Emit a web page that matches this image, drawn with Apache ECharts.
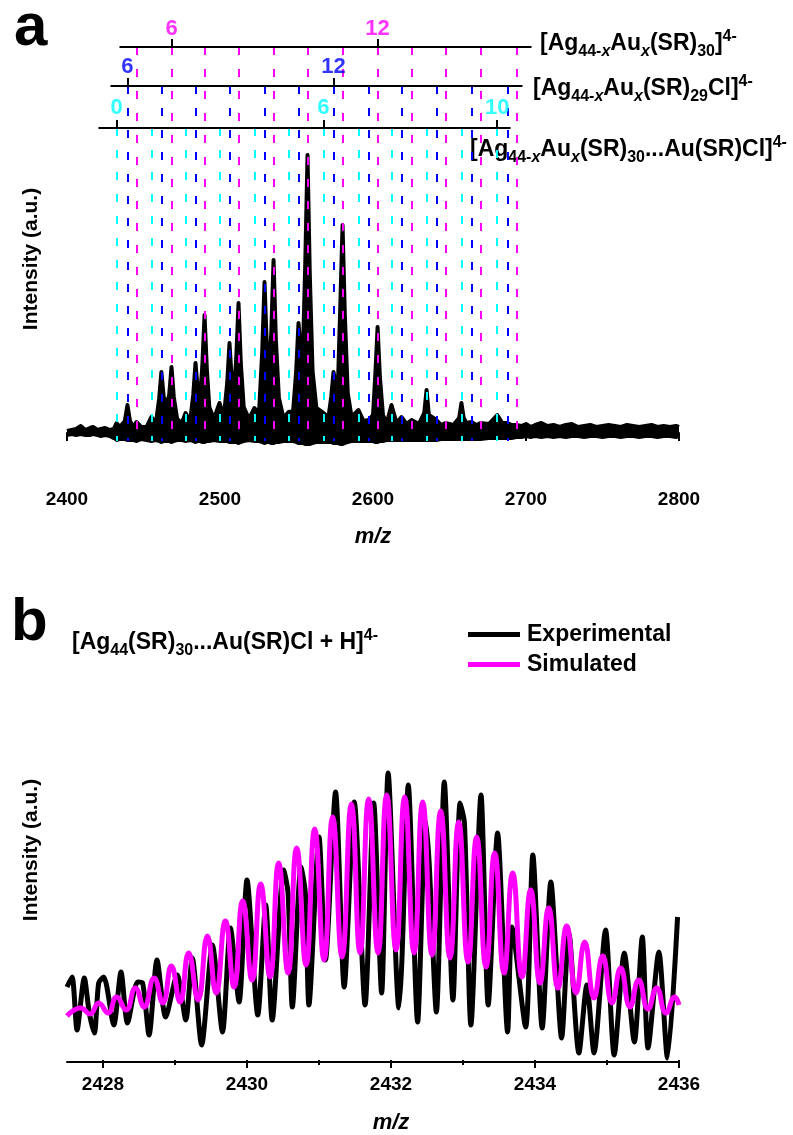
<!DOCTYPE html>
<html>
<head>
<meta charset="utf-8">
<script src="https://cdn.jsdelivr.net/npm/echarts@6/dist/echarts.min.js"></script>
<style>
  html, body { margin: 0; padding: 0; background: #fff; }
  #chart { width: 793px; height: 1135px; }
</style>
</head>
<body>
<div id="chart"></div>
<script>
// ---- panel a: survey spectrum, envelope of the dense trace [m/z, top, bottom]
const specEnvelope = [
  [2400, 2, -3], [2403, 3, -2], [2406, 4, -3], [2409, 7, -2], [2412, 3, -3],
  [2415, 5, -3], [2417, 6, -2], [2420, 3, -3], [2422, 4, -4], [2425, 5, -3],
  [2428, 3, -4], [2430.5, 4, -6],
  [2432.4, 10, -8], [2434.5, 6, -7], [2437.8, 12, -7], [2439.5, 28, -8], [2441.2, 12, -8],
  [2443.5, 6, -8], [2445.4, 11, -9], [2448.5, 6, -7], [2452.0, 6, -8], [2455.2, 16, -9],
  [2458.0, 9, -8], [2460.2, 34, -9], [2461.7, 61, -10], [2463.2, 36, -9], [2465.0, 28, -9],
  [2466.8, 38, -9], [2468.3, 66, -10], [2469.8, 36, -9], [2472.0, 14, -8], [2475.0, 10, -8],
  [2477.5, 20, -9], [2480.5, 12, -8], [2482.5, 38, -9], [2484.0, 70, -10], [2485.5, 42, -9],
  [2487.0, 36, -9], [2488.4, 66, -10], [2489.9, 118, -10], [2491.4, 64, -9], [2493.0, 26, -9],
  [2496.0, 14, -8], [2499.7, 30, -9], [2502.5, 16, -9], [2504.7, 50, -9], [2506.2, 90, -10],
  [2507.7, 52, -10], [2509.2, 44, -10], [2510.6, 74, -10], [2512.1, 130, -11], [2513.6, 70, -10],
  [2515.5, 26, -9], [2519.0, 14, -8], [2522.5, 25, -9], [2525.5, 20, -9], [2527.6, 82, -10],
  [2529.1, 151, -11], [2530.6, 86, -10], [2532.0, 62, -10], [2533.5, 100, -11], [2535.0, 173, -11],
  [2536.5, 94, -10], [2538.5, 35, -10], [2541.5, 15, -9], [2544.8, 21, -9], [2547.8, 22, -9],
  [2549.8, 62, -10], [2551.3, 110, -11], [2552.8, 82, -11], [2554.2, 80, -11], [2555.7, 168, -12],
  [2557.2, 278, -12], [2558.7, 158, -12], [2560.5, 62, -11], [2563.0, 25, -10], [2567.6, 20, -10],
  [2570.9, 16, -10], [2572.7, 36, -10], [2574.2, 61, -11], [2575.7, 48, -11], [2577.2, 54, -11],
  [2578.6, 126, -12], [2580.1, 208, -12], [2581.6, 118, -11], [2583.5, 40, -10], [2586.0, 16, -9],
  [2590.5, 23, -9], [2593.8, 12, -9], [2597.1, 13, -9], [2600.0, 18, -9], [2601.5, 58, -10],
  [2603.0, 106, -10], [2604.5, 56, -9], [2606.5, 18, -9], [2609.0, 10, -8], [2612.1, 28, -8],
  [2615.4, 10, -8], [2618.6, 16, -8], [2622.0, 9, -8], [2625.2, 13, -8], [2630.0, 9, -8],
  [2633.5, 20, -8], [2635.0, 43, -8], [2636.5, 18, -8], [2641.5, 13, -8], [2644.5, 8, -7],
  [2647.4, 10, -7], [2652.5, 8, -7], [2656.3, 15, -7], [2657.8, 30, -7], [2659.3, 15, -7],
  [2661.1, 10, -7], [2664.4, 11, -7], [2667.3, 8, -7], [2670.3, 10, -7], [2675.7, 9, -6],
  [2681.2, 18, -6], [2684.5, 10, -6], [2687.8, 10, -6], [2690.7, 8, -6], [2693.7, 8, -5],
  [2697, 7, -5], [2700, 9, -4], [2703, 6, -5], [2706, 8, -4], [2710, 10, -5], [2714, 7, -4],
  [2718, 8, -5], [2722, 6, -4], [2726, 8, -5], [2730, 9, -4], [2734, 6, -4], [2738, 7, -5],
  [2742, 8, -4], [2746, 6, -4], [2750, 7, -5], [2754, 8, -4], [2758, 7, -4], [2762, 6, -5],
  [2766, 8, -4], [2770, 7, -4], [2774, 6, -5], [2778, 7, -4], [2782, 8, -4], [2786, 6, -5],
  [2790, 7, -4], [2794, 6, -4], [2798, 7, -5], [2800, 6, -4]
];

// assignment lines (m/z) for the three families
const auxSR30 = [2445.4, 2468.3, 2489.9, 2512.1, 2535.0, 2557.2, 2580.1, 2603.0, 2625.2, 2647.4, 2670.3, 2693.7];
const auxSR29Cl = [2439.5, 2461.7, 2484.0, 2506.2, 2529.1, 2551.3, 2574.2, 2597.1, 2618.6, 2641.5, 2664.4, 2687.8];
const auxSR30AuCl = [2432.4, 2455.2, 2477.5, 2499.7, 2522.5, 2544.8, 2567.6, 2590.5, 2612.1, 2635.0, 2657.8, 2681.2];

// numbered ticks on the three ladders
const auxSR30Ticks = [2468.3, 2603.0];
const auxSR30Labels = ['6', '12'];
const auxSR29ClTicks = [2439.5, 2574.2];
const auxSR29ClLabels = ['6', '12'];
const auxSR30AuClTicks = [2432.4, 2567.6, 2681.2];
const auxSR30AuClLabels = ['0', '6', '10'];

// ---- panel b: zoom on [Ag44(SR)30...Au(SR)Cl + H]4-  [m/z, intensity]
const experimental = [
  [2427.50, 75], [2427.57, 85], [2427.64, 32], [2427.74, 84], [2427.81, 49], [2427.88, 29],
  [2427.94, 79], [2428.01, 85], [2428.15, 37], [2428.25, 90], [2428.34, 39], [2428.48, 80],
  [2428.55, 79], [2428.64, 27], [2428.75, 102], [2428.87, 45], [2429.03, 87], [2429.15, 42],
  [2429.24, 104], [2429.37, 17], [2429.52, 117], [2429.66, 30], [2429.77, 134], [2429.89, 60],
  [2430.00, 182], [2430.15, 47], [2430.26, 157], [2430.35, 42], [2430.51, 192], [2430.57, 169],
  [2430.63, 55], [2430.75, 195], [2430.81, 169], [2430.86, 57], [2431.00, 225], [2431.09, 102],
  [2431.23, 270], [2431.35, 75], [2431.49, 260], [2431.64, 57], [2431.76, 259], [2431.87, 69],
  [2431.96, 289], [2432.11, 54], [2432.15, 99], [2432.24, 277], [2432.37, 40], [2432.48, 242],
  [2432.53, 199], [2432.63, 50], [2432.74, 280], [2432.86, 62], [2432.96, 259], [2433.02, 239],
  [2433.11, 37], [2433.25, 267], [2433.35, 57], [2433.48, 229], [2433.62, 30], [2433.68, 135],
  [2433.87, 35], [2433.97, 207], [2434.10, 34], [2434.22, 180], [2434.37, 24], [2434.47, 129],
  [2434.61, 9], [2434.72, 77], [2434.82, 9], [2434.98, 132], [2435.10, 7], [2435.24, 109],
  [2435.38, 20], [2435.49, 125], [2435.57, 14], [2435.72, 110], [2435.84, 4], [2435.98, 145]
];
const simulated = [
  [2427.50, 46], [2427.69, 54], [2427.82, 48], [2427.94, 59], [2428.07, 49], [2428.19, 65],
  [2428.32, 52], [2428.45, 74], [2428.57, 55], [2428.71, 84], [2428.83, 59], [2428.95, 96],
  [2429.07, 60], [2429.19, 109], [2429.32, 62], [2429.45, 126], [2429.57, 69], [2429.70, 141],
  [2429.82, 75], [2429.94, 161], [2430.07, 82], [2430.19, 178], [2430.32, 85], [2430.44, 199],
  [2430.57, 89], [2430.69, 214], [2430.82, 97], [2430.94, 233], [2431.07, 102], [2431.19, 245],
  [2431.32, 105], [2431.45, 258], [2431.57, 109], [2431.69, 263], [2431.82, 109], [2431.94, 267],
  [2432.07, 112], [2432.19, 265], [2432.32, 109], [2432.44, 260], [2432.57, 107], [2432.69, 251],
  [2432.82, 104], [2432.94, 240], [2433.07, 100], [2433.19, 225], [2433.32, 95], [2433.44, 209],
  [2433.57, 89], [2433.69, 189], [2433.82, 85], [2433.94, 172], [2434.07, 79], [2434.19, 154],
  [2434.32, 74], [2434.44, 136], [2434.57, 69], [2434.69, 120], [2434.82, 64], [2434.94, 106],
  [2435.07, 59], [2435.19, 94], [2435.32, 55], [2435.44, 82], [2435.57, 53], [2435.69, 74],
  [2435.82, 49], [2435.94, 65], [2436.00, 57]
];

const FONT = '"Liberation Sans", Arial, sans-serif';
const MAGENTA = '#FF00FF', BLUE = '#0000FF', CYAN = '#00FFFF';

// ladder heights in panel a (intensity units)
const ladderY = { m: 386, b: 347, c: 305 };
const dashBottom = -8;

let myChart = echarts.init(document.getElementById('chart'));

function dashLines(list, top) {
  return list.map(m => ({ coords: [[m, top], [m, dashBottom]] }));
}
function tickLines(list, y) {
  return list.map(m => ({ coords: [[m, y], [m, y + 8]] }));
}
function numLabels(ticks, labels, y, color) {
  return ticks.map((m, i) => ({ name: labels[i], value: [m, y], label: { color: color } }));
}

const rich = {
  n: { fontSize: 23, fontWeight: 'bold', fontFamily: FONT, color: '#000', lineHeight: 31 },
  s: { fontSize: 16, fontWeight: 'bold', fontFamily: FONT, color: '#000', verticalAlign: 'bottom' },
  p: { fontSize: 16, fontWeight: 'bold', fontFamily: FONT, color: '#000', verticalAlign: 'top' },
  xm: { fontSize: 16, fontWeight: 'bold', fontStyle: 'italic', fontFamily: FONT, color: MAGENTA, verticalAlign: 'bottom' },
  xb: { fontSize: 16, fontWeight: 'bold', fontStyle: 'italic', fontFamily: FONT, color: BLUE, verticalAlign: 'bottom' },
  xc: { fontSize: 16, fontWeight: 'bold', fontStyle: 'italic', fontFamily: FONT, color: CYAN, verticalAlign: 'bottom' }
};
function formula(text, x, y) {
  return { type: 'text', x: x, y: y, style: { text: text, rich: rich, align: 'left', verticalAlign: 'middle' } };
}

const axisName = { fontSize: 22, fontWeight: 'bold', fontStyle: 'italic', fontFamily: FONT, color: '#000' };
const axisLbl = { fontSize: 19, fontWeight: 'bold', fontFamily: FONT, color: '#000', formatter: v => v.toFixed(0) };

myChart.setOption({
  animation: false,
  backgroundColor: '#fff',
  grid: [
    { left: 67, right: 114, top: 20, bottom: 659 },
    { left: 67, right: 114, top: 700, bottom: 73 },
    { left: 103, right: 114, top: 700, bottom: 73 }
  ],
  xAxis: [
    {
      gridIndex: 0, type: 'value', min: 2400, max: 2800, interval: 100,
      name: 'm/z', nameLocation: 'middle', nameGap: 50, nameTextStyle: axisName,
      axisLine: { lineStyle: { color: '#000', width: 2 } },
      axisTick: { length: 8, lineStyle: { width: 2 } },
      minorTick: { show: true, splitNumber: 2, length: 4, lineStyle: { color: '#000', width: 2 } },
      axisLabel: Object.assign({ margin: 14 }, axisLbl),
      splitLine: { show: false }
    },
    {
      gridIndex: 1, type: 'value', min: 2427.5, max: 2436,
      axisLine: { lineStyle: { color: '#000', width: 2 } },
      axisTick: { show: false }, axisLabel: { show: false }, splitLine: { show: false }
    },
    {
      gridIndex: 2, type: 'value', min: 2428, max: 2436, interval: 2,
      name: 'm/z', nameLocation: 'middle', nameGap: 52, nameTextStyle: axisName,
      axisLine: { show: false },
      axisTick: { length: 8, lineStyle: { color: '#000', width: 2 } },
      minorTick: { show: true, splitNumber: 2, length: 5, lineStyle: { color: '#000', width: 2 } },
      axisLabel: Object.assign({ margin: 15 }, axisLbl),
      splitLine: { show: false }
    }
  ],
  yAxis: [
    { gridIndex: 0, type: 'value', min: -43, max: 413, show: false },
    { gridIndex: 1, type: 'value', min: 0, max: 362, show: false },
    { gridIndex: 2, type: 'value', min: 0, max: 362, show: false }
  ],
  legend: {
    data: ['Experimental', 'Simulated'],
    orient: 'vertical', left: 463, top: 618,
    icon: 'rect', itemWidth: 52, itemHeight: 5, itemGap: 7,
    textStyle: { fontSize: 23, fontWeight: 'bold', fontFamily: FONT, color: '#000', padding: [0, 0, 0, 2] }
  },
  graphic: [
    { type: 'text', x: 14, y: 58, style: { text: 'a', fontSize: 60, fontWeight: 'bold', fontFamily: FONT, fill: '#000', align: 'left', verticalAlign: 'bottom' } },
    { type: 'text', x: 11, y: 653, style: { text: 'b', fontSize: 60, fontWeight: 'bold', fontFamily: FONT, fill: '#000', align: 'left', verticalAlign: 'bottom' } },
    { type: 'text', x: 31, y: 259, rotation: Math.PI / 2, style: { text: 'Intensity (a.u.)', fontSize: 21, fontWeight: 'bold', fontFamily: FONT, fill: '#000', align: 'center', verticalAlign: 'middle' } },
    { type: 'text', x: 31, y: 850, rotation: Math.PI / 2, style: { text: 'Intensity (a.u.)', fontSize: 21, fontWeight: 'bold', fontFamily: FONT, fill: '#000', align: 'center', verticalAlign: 'middle' } },
    formula('{n|[Ag}{s|44-}{xm|x}{n|Au}{xm|x}{n|(SR)}{s|30}{n|]}{p|4-}', 540, 44),
    formula('{n|[Ag}{s|44-}{xb|x}{n|Au}{xb|x}{n|(SR)}{s|29}{n|Cl]}{p|4-}', 533, 89),
    formula('{n|[Ag}{s|44-}{xc|x}{n|Au}{xc|x}{n|(SR)}{s|30}{n|...Au(SR)Cl]}{p|4-}', 470, 150),
    formula('{n|[Ag}{s|44}{n|(SR)}{s|30}{n|...Au(SR)Cl + H]}{p|4-}', 72, 643)
  ],
  series: [
    {
      // bottom edge of the noisy band: area fills up to zero
      name: 'envelopeLow', type: 'line', xAxisIndex: 0, yAxisIndex: 0, symbol: 'none',
      data: specEnvelope.map(d => [d[0], d[2]]),
      lineStyle: { color: '#000', width: 2 },
      areaStyle: { color: '#000', opacity: 1 }, z: 2
    },
    {
      // top edge of the band: area fills down to zero
      name: 'envelopeHigh', type: 'line', xAxisIndex: 0, yAxisIndex: 0, symbol: 'none',
      data: specEnvelope.map(d => [d[0], d[1]]),
      lineStyle: { color: '#000', width: 4, join: 'round' },
      areaStyle: { color: '#000', opacity: 1 }, z: 2
    },
    {
      type: 'lines', coordinateSystem: 'cartesian2d', xAxisIndex: 0, yAxisIndex: 0, z: 5,
      data: dashLines(auxSR30AuCl, ladderY.c),
      lineStyle: { color: CYAN, width: 2, type: [8, 14], opacity: 1 }
    },
    {
      type: 'lines', coordinateSystem: 'cartesian2d', xAxisIndex: 0, yAxisIndex: 0, z: 5,
      data: dashLines(auxSR29Cl, ladderY.b),
      lineStyle: { color: BLUE, width: 2, type: [8, 14], opacity: 1 }
    },
    {
      type: 'lines', coordinateSystem: 'cartesian2d', xAxisIndex: 0, yAxisIndex: 0, z: 5,
      data: dashLines(auxSR30, ladderY.m),
      lineStyle: { color: MAGENTA, width: 2, type: [8, 14], opacity: 1 }
    },
    {
      type: 'lines', coordinateSystem: 'cartesian2d', xAxisIndex: 0, yAxisIndex: 0, z: 6,
      data: [
        { coords: [[2434.3, ladderY.m], [2703.6, ladderY.m]] },
        { coords: [[2428.4, ladderY.b], [2697.7, ladderY.b]] },
        { coords: [[2420.6, ladderY.c], [2689.9, ladderY.c]] }
      ].concat(tickLines(auxSR30Ticks, ladderY.m), tickLines(auxSR29ClTicks, ladderY.b), tickLines(auxSR30AuClTicks, ladderY.c)),
      lineStyle: { color: '#000', width: 2, opacity: 1 }
    },
    {
      type: 'scatter', xAxisIndex: 0, yAxisIndex: 0, symbolSize: 1, z: 7,
      itemStyle: { color: 'rgba(0,0,0,0)' },
      label: { show: true, position: 'inside', formatter: '{b}', fontSize: 22, fontWeight: 'bold', fontFamily: FONT },
      data: [].concat(
        numLabels(auxSR30Ticks, auxSR30Labels, 404, MAGENTA),
        numLabels(auxSR29ClTicks, auxSR29ClLabels, 366, BLUE),
        numLabels(auxSR30AuClTicks, auxSR30AuClLabels, 325, CYAN)
      )
    },
    {
      name: 'Experimental', type: 'line', xAxisIndex: 1, yAxisIndex: 1,
      data: experimental, symbol: 'none', smooth: 0.25,
      lineStyle: { color: '#000', width: 5, join: 'round' }, itemStyle: { color: '#000' }, z: 3
    },
    {
      name: 'Simulated', type: 'line', xAxisIndex: 1, yAxisIndex: 1,
      data: simulated, symbol: 'none', smooth: true,
      lineStyle: { color: MAGENTA, width: 5, join: 'round' }, itemStyle: { color: MAGENTA }, z: 4
    }
  ]
});
</script>
</body>
</html>
